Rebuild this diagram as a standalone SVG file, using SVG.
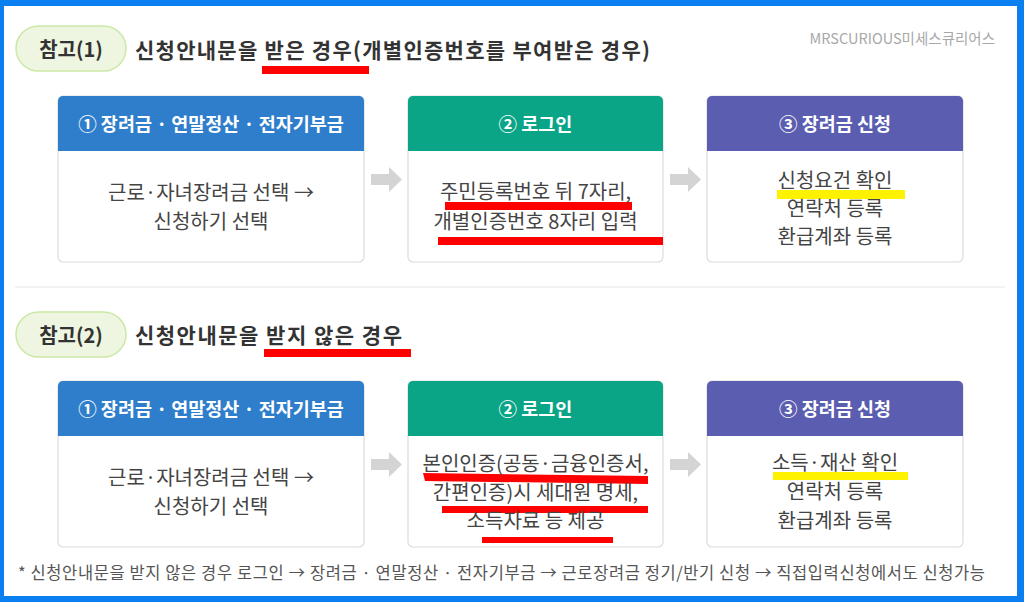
<svg xmlns="http://www.w3.org/2000/svg" width="1024" height="602" viewBox="0 0 1024 602">
<style>
text{font-family:"Noto Sans CJK KR","Noto Sans",sans-serif}
.pill{fill:#eef6e2;stroke:#cbe8a6;stroke-width:1.5}
.pt{font-size:20px;font-weight:700;fill:#333;text-anchor:middle}
.h{font-size:21px;font-weight:700;fill:#333}
.card{fill:#fff;stroke:#dcdcdc;stroke-width:1.2}
.ht{font-size:18.5px;font-weight:700;fill:#fff;text-anchor:middle}
.bt{font-size:20px;fill:#444;text-anchor:middle}
.red{fill:#ff0000}
.yel{fill:#fff200}
.arr{fill:#d4d4d4}
</style>
<rect x="0" y="0" width="1024" height="602" fill="#0a80f0"/>
<rect x="4" y="6" width="1013" height="590" fill="#fff"/>
<text x="995" y="44" font-size="14.5" fill="#a8a8a8" text-anchor="end">MRSCURIOUS미세스큐리어스</text>

<g id="heading1">
<rect class="pill" x="16" y="26" width="110" height="45" rx="22.5"/>
<text class="pt" x="71" y="57">참고(1)</text>
<rect class="red" x="262" y="66" width="107" height="8"/>
<text class="h" x="135" y="58" textLength="515" lengthAdjust="spacing">신청안내문을 받은 경우(개별인증번호를 부여받은 경우)</text>
</g>

<g id="r1c1">
<rect class="card" x="58" y="96" width="306" height="166" rx="5"/>
<path d="M58 151V101a5 5 0 0 1 5-5h296a5 5 0 0 1 5 5v50z" fill="#2f7ecb"/>
<text class="ht" x="211" y="131">① 장려금 · 연말정산 · 전자기부금</text>
<text class="bt" x="211" y="200">근로·자녀장려금 선택 →</text>
<text class="bt" x="211" y="229">신청하기 선택</text>
</g>
<g id="r1c2">
<rect class="card" x="408" y="96" width="255" height="166" rx="5"/>
<path d="M408 151V101a5 5 0 0 1 5-5h245a5 5 0 0 1 5 5v50z" fill="#0aa587"/>
<text class="ht" x="535.5" y="131">② 로그인</text>
<rect class="red" x="445" y="202" width="187" height="8"/>
<rect class="red" x="438" y="237" width="225" height="8"/>
<text class="bt" x="535.5" y="199">주민등록번호 뒤 7자리,</text>
<text class="bt" x="535.5" y="229">개별인증번호 8자리 입력</text>
</g>
<g id="r1c3">
<rect class="card" x="707" y="96" width="256" height="166" rx="5"/>
<path d="M707 151V101a5 5 0 0 1 5-5h246a5 5 0 0 1 5 5v50z" fill="#5a5db0"/>
<text class="ht" x="835" y="131">③ 장려금 신청</text>
<rect class="yel" x="777" y="190" width="128" height="9"/>
<text class="bt" x="835" y="188">신청요건 확인</text>
<text class="bt" x="835" y="216">연락처 등록</text>
<text class="bt" x="835" y="244">환급계좌 등록</text>
</g>

<line x1="15" y1="287" x2="1005" y2="287" stroke="#e6e6e6" stroke-width="1.2"/>

<g id="heading2">
<rect class="pill" x="16" y="312" width="110" height="45" rx="22.5"/>
<text class="pt" x="71" y="343">참고(2)</text>
<rect class="red" x="264" y="349" width="147" height="8"/>
<text class="h" x="135" y="343" textLength="267" lengthAdjust="spacing">신청안내문을 받지 않은 경우</text>
</g>

<g id="r2c1">
<rect class="card" x="58" y="381" width="306" height="166" rx="5"/>
<path d="M58 436V386a5 5 0 0 1 5-5h296a5 5 0 0 1 5 5v50z" fill="#2f7ecb"/>
<text class="ht" x="211" y="416">① 장려금 · 연말정산 · 전자기부금</text>
<text class="bt" x="211" y="485">근로·자녀장려금 선택 →</text>
<text class="bt" x="211" y="514">신청하기 선택</text>
</g>
<g id="r2c2">
<rect class="card" x="408" y="381" width="255" height="166" rx="5"/>
<path d="M408 436V386a5 5 0 0 1 5-5h245a5 5 0 0 1 5 5v50z" fill="#0aa587"/>
<text class="ht" x="535.5" y="416">② 로그인</text>
<path class="red" d="M423 473L648 476V484L425 481Z"/>
<rect class="red" x="442" y="506" width="206" height="7"/>
<rect class="red" x="482" y="537" width="131" height="6"/>
<text class="bt" x="535.5" y="471">본인인증(공동·금융인증서,</text>
<text class="bt" x="535.5" y="500">간편인증)시 세대원 명세,</text>
<text class="bt" x="535.5" y="528">소득자료 등 제공</text>
</g>
<g id="r2c3">
<rect class="card" x="707" y="381" width="256" height="166" rx="5"/>
<path d="M707 436V386a5 5 0 0 1 5-5h246a5 5 0 0 1 5 5v50z" fill="#5a5db0"/>
<text class="ht" x="835" y="416">③ 장려금 신청</text>
<rect class="yel" x="773" y="472" width="135" height="8"/>
<text class="bt" x="835" y="470">소득·재산 확인</text>
<text class="bt" x="835" y="499">연락처 등록</text>
<text class="bt" x="835" y="528">환급계좌 등록</text>
</g>

<g id="connectors">
<path class="arr" d="M371 174H389V167L402 179.5L389 192V185H371Z"/>
<path class="arr" d="M670 174H688V167L701 179.5L688 192V185H670Z"/>
<path class="arr" d="M371 459H389V452L402 464.5L389 477V470H371Z"/>
<path class="arr" d="M670 459H688V452L701 464.5L688 477V470H670Z"/>
</g>

<text x="18" y="579" font-size="16.5" fill="#555" textLength="967" lengthAdjust="spacing">* 신청안내문을 받지 않은 경우 로그인 → 장려금 · 연말정산 · 전자기부금 → 근로장려금 정기/반기 신청 → 직접입력신청에서도 신청가능</text>
</svg>
